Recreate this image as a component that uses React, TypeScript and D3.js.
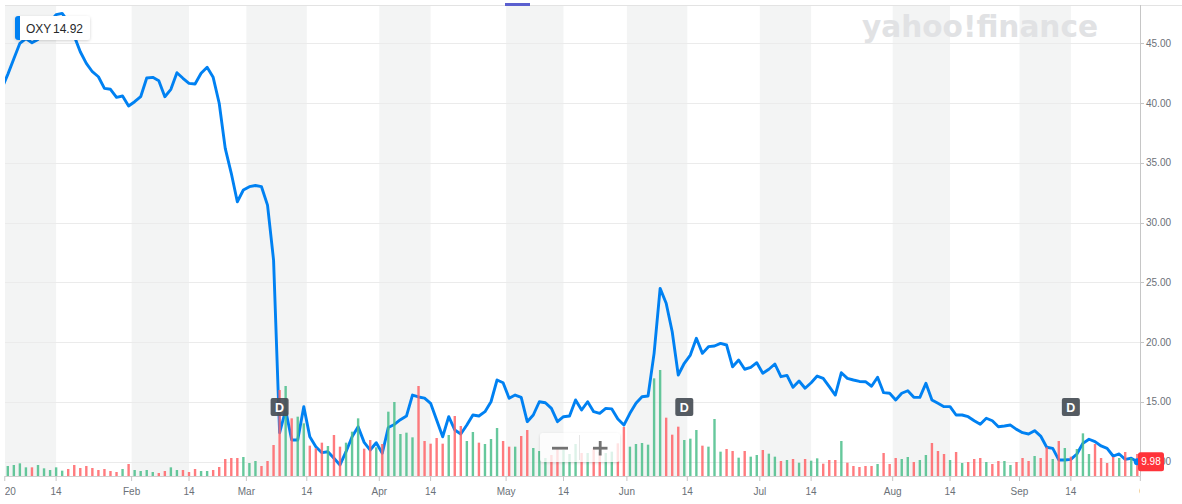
import React from 'react';
import * as d3 from 'd3';

// ---------- data ----------
const symbol = 'OXY';
const legendValue = '14.92';
const lastLabel = '9.98';
const startDate = '2019-12-31';
const endDate = '2020-09-29';
const holidays = ['2020-01-01', '2020-01-20', '2020-02-17', '2020-04-10', '2020-05-25', '2020-07-03', '2020-09-07'];

// daily closes, one per trading day from 2019-12-31
const closes = [
  41.2,
  42.4, 43.7, 45.0, 45.4, 45.05, 45.33, 46.0, 46.8, 47.4, 47.5,
  46.8, 45.6, 44.29, 43.32, 42.62, 42.2, 41.23, 41.15, 40.48, 40.59,
  39.75, 40.11, 40.53, 42.1, 42.15, 41.87, 40.53, 41.15, 42.54, 42.07,
  41.65, 41.59, 42.49, 42.99, 42.15, 39.98, 36.21, 34.12, 31.74, 32.72,
  33.0, 33.1, 33.0, 31.46, 26.86, 12.4, 14.31, 11.8, 11.8, 14.59,
  12.07, 11.24, 10.74, 10.82, 10.27, 9.71, 10.82, 12.07, 12.91, 11.6,
  10.96, 11.57, 10.69, 12.85, 13.1, 13.5, 13.8, 15.56, 15.4, 15.3,
  14.87, 13.47, 12.07, 13.75, 12.64, 12.3, 13.05, 13.89, 13.81, 14.17,
  15.0, 16.82, 16.59, 15.29, 15.56, 15.37, 13.33, 13.89, 15.0, 14.92,
  14.45, 13.33, 13.75, 13.81, 15.15, 14.31, 15.0, 14.17, 14.03, 14.45,
  14.4, 13.55, 13.05, 14.03, 14.87, 15.42, 15.48, 19.05, 24.49, 23.24,
  20.86, 17.24, 18.22, 18.91, 20.31, 19.05, 19.61, 19.67, 19.89, 19.75,
  17.93, 18.49, 17.72, 17.88, 18.27, 17.38, 17.72, 18.16, 17.1, 17.21,
  16.21, 16.74, 16.13, 16.59, 17.15, 16.96, 16.26, 15.56, 17.43, 16.96,
  16.82, 16.7, 16.68, 16.3, 17.05, 15.76, 15.71, 15.15, 15.71, 15.92,
  15.37, 15.37, 16.54, 15.15, 14.87, 14.59, 14.59, 13.89, 13.89, 13.75,
  13.41, 13.11, 13.62, 13.41, 12.91, 12.97, 13.05, 12.69, 12.41, 12.3,
  12.58, 12.13, 11.19, 11.1, 10.13, 10.13, 10.18, 10.63, 11.52, 11.86,
  11.66, 11.3, 11.1, 10.46, 10.63, 10.18, 10.27, 9.98,
];

// daily volume (millions of shares)
const volumes = [
  15,
  15, 16.5, 19, 13, 13, 16.5, 11.5, 9, 13, 8,
  10.5, 16.5, 12, 15, 12, 9, 10.5, 7.5, 6, 10.5,
  18, 9, 7.5, 9, 6, 4.5, 7.5, 13, 9, 9,
  6, 10.5, 7.5, 7.5, 9, 13.5, 25.5, 27, 27, 28.5,
  19.5, 22.5, 15, 22.5, 46.5, 129, 135, 86.5, 89, 79,
  45.5, 41.5, 50, 45, 61.5, 44, 50, 66.5, 86.5, 41,
  54, 43, 48, 96.5, 111, 63, 65, 58, 135, 52.5,
  48.5, 57, 48.5, 61.5, 90, 75, 52.5, 66, 50, 48,
  55.5, 72, 52.5, 44, 44, 60, 69, 42, 37.5, 27,
  31.5, 41.5, 39, 33, 48, 34.5, 34.5, 42, 36, 34.5,
  36.5, 49, 73.5, 44, 48, 49.5, 47, 146.5, 159, 87.5,
  62, 74, 54, 56, 69, 45.5, 44, 85.5, 36.5, 40.5,
  37.5, 27.5, 37.5, 29, 31.5, 39, 33.5, 29, 22.5, 24,
  25.5, 20, 25.5, 23, 26.5, 18.5, 24, 24, 52.5, 20,
  15, 13.5, 15, 15, 18, 34.5, 18, 27, 25.5, 28.5,
  21, 24, 31.5, 49.5, 37.5, 33, 24, 36, 19.5, 21,
  25.5, 27, 21, 18, 22.5, 22.5, 16.5, 21, 27, 22.5,
  30, 27, 43, 25.5, 52.5, 42, 29, 40.5, 64, 33,
  48, 27, 19.5, 28.5, 27, 36, 27, 33,
];

// g = up day, r = down day (volume colour)
const directions =
  'r' +
  'ggggrggggg' + 'rrrrrrrrrg' + 'rggggrrggr' + 'rrggrrrrrg' + 'ggrrrrgrgg' +
  'rrrgrrgggr' + 'rgrgggggrr' + 'rrrgrrggrg' + 'ggrrgrrggg' + 'rrgggrgrrg' +
  'grrggggggr' + 'rrgggrgggr' + 'rgrggrggrg' + 'rgrggrrrgr' + 'rrrrgrrrgg' +
  'rggrrrgrgr' + 'rrgrrggrrr' + 'grrgrgrggg' + 'rrrrgrgr';

const dividendDates = ['2020-03-09', '2020-06-12', '2020-09-14'];
const priceTicks = [10, 15, 20, 25, 30, 35, 40, 45];
const monthTicks = [
  { date: '2020-01-01', label: '2020' },
  { date: '2020-02-01', label: 'Feb' },
  { date: '2020-03-01', label: 'Mar' },
  { date: '2020-04-01', label: 'Apr' },
  { date: '2020-05-01', label: 'May' },
  { date: '2020-06-01', label: 'Jun' },
  { date: '2020-07-01', label: 'Jul' },
  { date: '2020-08-01', label: 'Aug' },
  { date: '2020-09-01', label: 'Sep' },
  { date: '2020-10-01', label: 'Oct' },
];
const midTicks = [
  { date: '2020-01-14', label: '14' },
  { date: '2020-02-14', label: '14' },
  { date: '2020-03-14', label: '14' },
  { date: '2020-04-14', label: '14' },
  { date: '2020-05-14', label: '14' },
  { date: '2020-06-14', label: '14' },
  { date: '2020-07-14', label: '14' },
  { date: '2020-08-14', label: '14' },
  { date: '2020-09-14', label: '14' },
];

// ---------- helpers ----------
function tradingDays(): string[] {
  const out: string[] = [];
  const fmt = d3.utcFormat('%Y-%m-%d');
  let d = new Date(startDate + 'T00:00:00Z');
  const end = new Date(endDate + 'T00:00:00Z');
  while (d <= end) {
    const s = fmt(d);
    const wd = d.getUTCDay();
    if (wd !== 0 && wd !== 6 && !holidays.includes(s)) out.push(s);
    d = d3.utcDay.offset(d, 1);
  }
  return out;
}

const FONT = '"Liberation Sans", Arial, Helvetica, sans-serif';

export default function App() {
  const days = tradingDays();
  const W = 1182, H = 504;
  const left = 5, right = 1140, top = 5, bottom = 476;

  const x = d3.scaleLinear().domain([1, 188]).range([7.8, 1137.3]);
  const y = d3.scaleLinear().domain([10, 45]).range([461.5, 43.3]);
  const yVol = d3.scaleLinear().domain([0, 180]).range([bottom, bottom - 120]);

  const tickPos = (date: string, exact: boolean) => {
    let i = days.findIndex((s) => s >= date);
    if (i < 0) i = days.length;
    return exact && days[i] === date ? i : i - 0.5;
  };

  const mPos = monthTicks.map((t) => ({ ...t, x: x(tickPos(t.date, false)) }));
  const dPos = midTicks.map((t) => ({ ...t, x: x(tickPos(t.date, true)) }));
  const bands = dPos.map((t, i) => ({ x0: mPos[i].x, x1: t.x }));

  const line = d3
    .line<number>()
    .x((_, i) => x(i))
    .y((v) => y(v));

  const divIdx = dividendDates.map((d) => days.indexOf(d));
  const last = closes.length - 1;

  const green = '#4cbf8b';
  const red = '#ff6468';

  return (
    <svg
      width={W}
      height={H}
      style={{ position: 'absolute', left: 0, top: 0, background: '#fff', fontFamily: FONT }}
    >
      <defs>
        <clipPath id="plot">
          <rect x={left} y={top} width={right - left} height={bottom - top} />
        </clipPath>
        <clipPath id="xlab">
          <rect x={left} y={bottom} width={right - left} height={H - bottom} />
        </clipPath>
        <filter id="shadow" x="-20%" y="-40%" width="140%" height="180%">
          <feDropShadow dx="0" dy="1" stdDeviation="1.5" floodColor="#000" floodOpacity="0.18" />
        </filter>
      </defs>

      {/* month shading */}
      <g clipPath="url(#plot)">
        {bands.map((b, i) => (
          <rect key={i} x={b.x0} y={top} width={b.x1 - b.x0} height={bottom - top} fill="#f3f4f4" />
        ))}
      </g>

      {/* watermark */}
      <text
        x={862}
        y={37}
        fontSize={31}
        fontWeight={900}
        fill="#e1e2e4"
        textLength={236}
        lengthAdjust="spacingAndGlyphs"
        fontFamily='"DejaVu Sans", sans-serif'
      >
        yahoo!finance
      </text>

      {/* grid */}
      {priceTicks.map((t) => (
        <line key={t} x1={left} x2={right} y1={Math.round(y(t)) + 0.5} y2={Math.round(y(t)) + 0.5} stroke="#ebebeb" />
      ))}
      <line x1={left} x2={W} y1={top + 0.5} y2={top + 0.5} stroke="#e3e3e3" />

      {/* price line */}
      <g clipPath="url(#plot)">
        <path d={line(closes) || ''} fill="none" stroke="#0081f2" strokeWidth={2.9} strokeLinejoin="round" />
      </g>

      {/* volume */}
      <g clipPath="url(#plot)" opacity={0.85}>
        {volumes.map((v, i) => (
          <rect
            key={i}
            x={x(i) - 1.2}
            y={yVol(v)}
            width={2.4}
            height={bottom - yVol(v)}
            fill={directions[i] === 'g' ? green : red}
          />
        ))}
      </g>

      {/* last point */}
      <circle cx={x(last)} cy={y(closes[last])} r={3.5} fill="#0081f2" />

      {/* dividend markers */}
      {divIdx.map((k, i) => (
        <g key={i} transform={`translate(${x(k)},407)`}>
          <rect x={-9} y={-9} width={18} height={18} rx={2} fill="#464d55" opacity={0.92} />
          <text x={0} y={4.5} textAnchor="middle" fontSize={12.5} fontWeight={600} fill="#fff">
            D
          </text>
        </g>
      ))}

      {/* zoom control */}
      <g>
        <rect x={540} y={433} width={80} height={29} rx={3} fill="#fff" opacity={0.78} filter="url(#shadow)" />
        <line x1={579.5} x2={579.5} y1={435} y2={460} stroke="#e6e6e6" />
        <rect x={552} y={446.8} width={16} height={2.8} fill="#727272" />
        <rect x={593} y={446.8} width={14.5} height={2.8} fill="#727272" />
        <rect x={598.8} y={441} width={2.8} height={14.5} fill="#727272" />
      </g>

      {/* right axis */}
      <line x1={right + 0.5} x2={right + 0.5} y1={top} y2={bottom} stroke="#c6c6c6" />
      {priceTicks.map((t) => (
        <g key={t}>
          <line x1={right} x2={right + 4} y1={Math.round(y(t)) + 0.5} y2={Math.round(y(t)) + 0.5} stroke="#c6c6c6" />
          <text x={1146} y={y(t) + 3.6} fontSize={10} fill="#6b7178">
            {t.toFixed(2)}
          </text>
        </g>
      ))}

      {/* last price tag */}
      <rect x={1138} y={y(closes[last]) - 9.5} width={26} height={19} rx={2.5} fill="#ff333a" />
      <text x={1151} y={y(closes[last]) + 3.6} textAnchor="middle" fontSize={10} fill="#fff">
        {lastLabel}
      </text>

      {/* bottom axis */}
      <line x1={left} x2={right} y1={bottom + 0.5} y2={bottom + 0.5} stroke="#cfcfcf" />
      {[...mPos, ...dPos].map((t, i) => (
        <line key={i} x1={t.x} x2={t.x} y1={bottom} y2={bottom + 5} stroke="#c6c6c6" />
      ))}
      <g clipPath="url(#xlab)">
        {[...mPos, ...dPos].map((t, i) => (
          <text
            key={i}
            x={t.x > right - 8 ? t.x - 1 : t.x}
            y={495}
            textAnchor={t.x > right - 8 ? 'start' : 'middle'}
            fontSize={10}
            fill="#6b7178"
          >
            {t.label}
          </text>
        ))}
      </g>

      {/* top indicator */}
      <rect x={505} y={3} width={25} height={3} fill="#5a5fcf" />

      {/* legend */}
      <g filter="url(#shadow)">
        <rect x={15} y={16} width={75} height={24} rx={3} fill="#fff" />
      </g>
      <path d="M18,16 h2 v24 h-2 a3,3 0 0 1 -3,-3 v-18 a3,3 0 0 1 3,-3 z" fill="#0081f2" />
      <text x={26} y={33} fontSize={12} fill="#26282a">
        {symbol}
      </text>
      <text x={53} y={33} fontSize={12} fill="#26282a">
        {legendValue}
      </text>
    </svg>
  );
}
